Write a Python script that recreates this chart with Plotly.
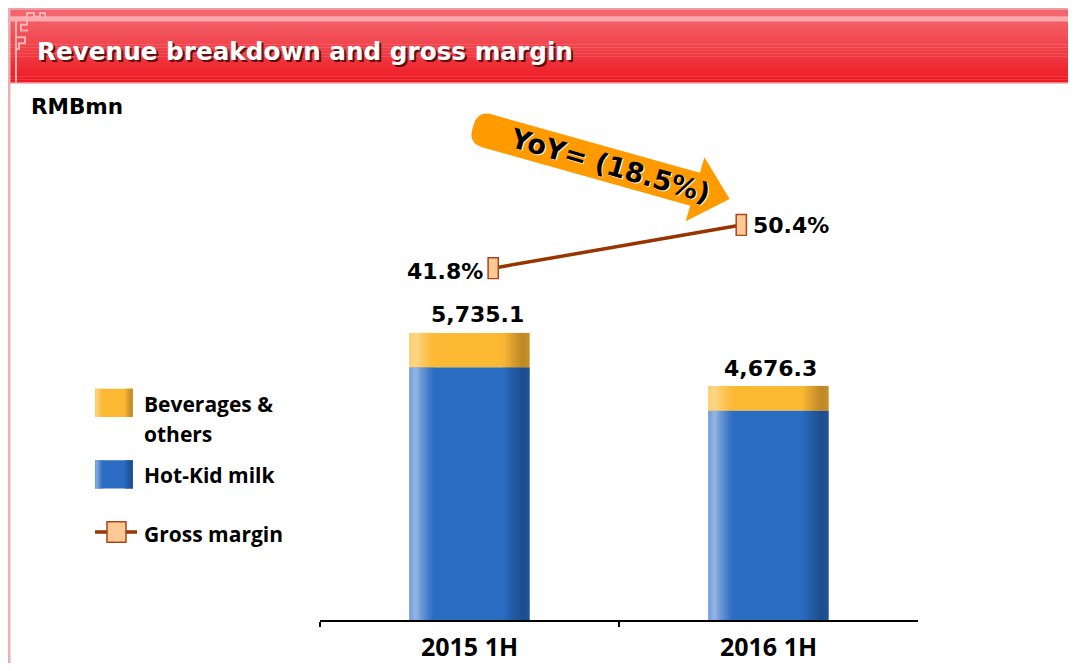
import math
import plotly.graph_objects as go

# ---------------- data ----------------
categories = ["2015 1H", "2016 1H"]
hotkid_milk = [5051.0, 4186.0]
beverages_others = [684.1, 490.3]
totals = [5735.1, 4676.3]
total_labels = ["5,735.1", "4,676.3"]
gross_margin = [41.8, 50.4]
margin_labels = ["41.8%", "50.4%"]
series_names = ["Hot-Kid milk", "Beverages & others", "Gross margin"]
title_text = "Revenue breakdown and gross margin"
unit_text = "RMBmn"
yoy_text = "YoY= (18.5%)"

# page has an 8px body margin
OFF = 8
W, H = 1068, 655


def px(x):
    return (x - OFF) / W


def py(y):
    return 1 - (y - OFF) / H


def hex2rgb(c):
    c = c.lstrip("#")
    return tuple(int(c[i:i + 2], 16) for i in (0, 2, 4))


def mix(c1, c2, t):
    a, b = hex2rgb(c1), hex2rgb(c2)
    return "rgb(%d,%d,%d)" % tuple(round(a[i] + (b[i] - a[i]) * t) for i in range(3))


def interp(pts, s):
    for (s0, v0), (s1, v1) in zip(pts[:-1], pts[1:]):
        if s0 <= s <= s1:
            return v0 + (v1 - v0) * (s - s0) / (s1 - s0) if s1 > s0 else v1
    return 0.0


BOLD = "DejaVu Sans"
SANS = "Open Sans"

HL_PROFILE = [(0.0, 0.55), (0.05, 0.85), (0.10, 0.5), (0.20, 0.0)]
SH_PROFILE = [(0.78, 0.0), (0.88, 0.6), (0.94, 0.9), (1.0, 0.75)]
N_L, N_R = 12, 14
strips = []
for i in range(N_L):
    s, e = 0.20 * i / N_L, 0.20 * (i + 1) / N_L
    strips.append((s, e, "hl", interp(HL_PROFILE, (s + e) / 2)))
for i in range(N_R):
    s, e = 0.78 + 0.22 * i / N_R, 0.78 + 0.22 * (i + 1) / N_R
    strips.append((s, e, "sh", interp(SH_PROFILE, (s + e) / 2)))

fig = go.Figure()

# ---------------- stacked bars with edge shading ----------------
BAR_W = 120 / 299
hk_base = [0 for _ in hotkid_milk]
series = [
    (series_names[0], hotkid_milk, hk_base, "#2a6cc2", "#aac5eb", "#1d4a88"),
    (series_names[1], beverages_others, hotkid_milk, "#fbb933", "#fedc98", "#b58326"),
]
for name, vals, base, col, hl, sh in series:
    fig.add_trace(go.Bar(x=categories, y=vals, base=base, name=name,
                         width=BAR_W, offset=-BAR_W / 2, marker_color=col,
                         marker_line_width=0, showlegend=False))
    for s, e, kind, t in strips:
        c = mix(col, hl if kind == "hl" else sh, t)
        ee = min(1.0, e + 0.004)
        fig.add_trace(go.Bar(x=categories, y=vals, base=base, name=name,
                             width=BAR_W * (ee - s), offset=-BAR_W / 2 + BAR_W * s,
                             marker_color=c, marker_line_width=0,
                             showlegend=False, hoverinfo="skip"))

# ---------------- gross margin line ----------------
fig.add_trace(go.Scatter(x=categories, y=gross_margin, xaxis="x2", yaxis="y2",
                         mode="lines", name=series_names[2],
                         line=dict(color="#993300", width=3.5), showlegend=False))
fig.add_trace(go.Scatter(x=categories, y=gross_margin, xaxis="x2", yaxis="y2",
                         mode="markers", name=series_names[2], hoverinfo="skip",
                         marker=dict(symbol="line-ns", size=15.9, color="#a8461c",
                                     line=dict(color="#a8461c", width=11.7)),
                         showlegend=False))
fig.add_trace(go.Scatter(x=categories, y=gross_margin, xaxis="x2", yaxis="y2",
                         mode="markers", name=series_names[2],
                         marker=dict(symbol="line-ns", size=13.9, color="#ffc995",
                                     line=dict(color="#ffc995", width=8.7)),
                         showlegend=False))

shapes = []


def rect(x0, y0, x1, y1, color, layer="below", line=None):
    shapes.append(dict(type="rect", xref="paper", yref="paper",
                       x0=px(x0), x1=px(x1), y0=py(y1), y1=py(y0),
                       fillcolor=color, line=line or dict(width=0), layer=layer))


# ---------------- header banner ----------------
rect(820, 0, 900, 7, "#f1f7fd")
rect(900, 0, 980, 7, "#d5e6f8")
rect(980, 0, 1090, 7, "#abcbf1")
rect(4, 7, 1090, 9.5, "#e3a3a7")
rect(6, 9.5, 1090, 17, "#f4646c")
rect(6, 17, 1090, 21.5, "#fbaaad")
n = 21
y0 = 21.5
for i in range(n):
    ya = y0 + (84 - y0) * i / n
    yb = y0 + (84 - y0) * (i + 1) / n + 0.3
    rect(6, ya, 1090, yb, mix("#f35e66", "#ed1b24", i / (n - 1)))
rect(6, 84, 1090, 85.5, "#f5a6a9")
rect(8, 7, 10.5, 700, "#e9b1b4")

fret = ("M16,84 L16,18 M16,18 L27,18 L27,25 L21,25 L21,31 L28,31 "
        "M16,38 L25,38 L25,44 L19,44 L19,50 L16,50 "
        "M27,18 L27,13 L34,13 L34,17 L40,17 L40,13 L45,13 L45,18")


def path_to_paper(p):
    out = []
    for tok in p.split():
        cmd = tok[0]
        xs, ys = tok[1:].split(",")
        out.append("%s%.5f,%.5f" % (cmd, px(float(xs)), py(float(ys))))
    return " ".join(out)


shapes.append(dict(type="path", xref="paper", yref="paper", path=path_to_paper(fret),
                   line=dict(color="#fbb2b5", width=2), layer="above"))

# ---------------- YoY arrow ----------------
th = math.radians(16)
ux, uy = math.cos(th), math.sin(th)
nx, ny = -math.sin(th), math.cos(th)
Sx, Sy = 473.0, 129.5
L, HL, BW, HW, R = 267.0, 36.0, 17.5, 34.0, 15.0


def pt(s, t):
    x = Sx + s * ux + t * nx
    y = Sy + s * uy + t * ny
    return "%.5f,%.5f" % (px(x), py(y))


arrow = ("M" + pt(R, -BW) + " L" + pt(L - HL, -BW) + " L" + pt(L - HL, -HW) +
         " L" + pt(L, 0) + " L" + pt(L - HL, HW) + " L" + pt(L - HL, BW) +
         " L" + pt(R, BW) + " Q" + pt(0, BW) + " " + pt(0, BW - R) +
         " L" + pt(0, -BW + R) + " Q" + pt(0, -BW) + " " + pt(R, -BW) + " Z")
shapes.append(dict(type="path", xref="paper", yref="paper", path=arrow,
                   fillcolor="#ff9b00", line_width=0, layer="above"))


# ---------------- custom legend ----------------
def swatch(x0, y0, x1, y1, col, hl, sh):
    rect(x0, y0, x1, y1, col, layer="above")
    w = x1 - x0
    for s, e, kind, t in strips:
        rect(x0 + w * s, y0, x0 + w * min(1.0, e + 0.004), y1,
             mix(col, hl if kind == "hl" else sh, t), layer="above")


swatch(95, 397, 133, 426, "#fbb933", "#fedc98", "#b58326")
swatch(95, 470, 133, 499, "#2a6cc2", "#aac5eb", "#1d4a88")
shapes.append(dict(type="line", xref="paper", yref="paper", x0=px(95), x1=px(137),
                   y0=py(543.5), y1=py(543.5), line=dict(color="#993300", width=3.5)))
rect(107, 533, 126, 554, "#ffc995", layer="above", line=dict(color="#a8461c", width=1.5))

# ---------------- annotations ----------------
ann = []
ann.append(dict(text="<b>%s</b>" % title_text, x=px(37), y=py(54.5), xref="paper", yref="paper",
                xanchor="left", yanchor="middle", showarrow=False,
                font=dict(family=BOLD, size=24.7, color="rgba(50,0,0,0.75)")))
ann.append(dict(text="<b>%s</b>" % title_text, x=px(35), y=py(52.5), xref="paper", yref="paper",
                xanchor="left", yanchor="middle", showarrow=False,
                font=dict(family=BOLD, size=24.7, color="white")))
ann.append(dict(text="<b>%s</b>" % unit_text, x=px(29), y=py(108.5), xref="paper", yref="paper",
                xanchor="left", yanchor="middle", showarrow=False,
                font=dict(family=BOLD, size=21.5, color="black")))

cx = Sx + 143 * ux
cy = Sy + 143 * uy
ann.append(dict(text="<b>%s</b>" % yoy_text, x=px(cx + 1.5), y=py(cy + 1.5), xref="paper", yref="paper",
                xanchor="center", yanchor="middle", showarrow=False, textangle=16,
                font=dict(family=BOLD, size=27, color="rgba(255,255,255,0.9)")))
ann.append(dict(text="<b>%s</b>" % yoy_text, x=px(cx), y=py(cy), xref="paper", yref="paper",
                xanchor="center", yanchor="middle", showarrow=False, textangle=16,
                font=dict(family=BOLD, size=27, color="black")))

tot_shift = [(8, 18), (2, 17)]
for i, c in enumerate(categories):
    ann.append(dict(text="<b>%s</b>" % total_labels[i], x=c, y=totals[i], xref="x", yref="y",
                    xanchor="center", yanchor="middle", showarrow=False,
                    xshift=tot_shift[i][0], yshift=tot_shift[i][1],
                    font=dict(family=BOLD, size=22, color="black")))

ann.append(dict(text="<b>%s</b>" % margin_labels[0], x=categories[0], y=gross_margin[0],
                xref="x2", yref="y2", xanchor="right", yanchor="middle", showarrow=False,
                xshift=-8, yshift=-3, font=dict(family=BOLD, size=22, color="black")))
ann.append(dict(text="<b>%s</b>" % margin_labels[1], x=categories[1], y=gross_margin[1],
                xref="x2", yref="y2", xanchor="left", yanchor="middle", showarrow=False,
                xshift=10, yshift=-1, font=dict(family=BOLD, size=22, color="black")))

leg_text = [("Beverages &amp;", 412.5), ("others", 443), ("Hot-Kid milk", 485.5), ("Gross margin", 545)]
for t, yy in leg_text:
    ann.append(dict(text="<b>%s</b>" % t, x=px(142), y=py(yy), xref="paper", yref="paper",
                    xanchor="left", yanchor="middle", showarrow=False,
                    font=dict(family=SANS, size=21, color="black")))

y_dom = [py(633.3), py(100)]
fig.update_layout(
    width=W, height=H, margin=dict(l=0, r=0, t=0, b=0),
    paper_bgcolor="white", plot_bgcolor="rgba(0,0,0,0)",
    barmode="overlay", showlegend=False,
    xaxis=dict(domain=[px(320), px(918)], type="category", range=[-0.5, 1.5],
               showline=True, linecolor="black", linewidth=1.5,
               ticks="outside", ticklen=5, tickwidth=1.5, tickcolor="black",
               tickson="boundaries", showgrid=False, zeroline=False,
               ticklabelstandoff=4,
               tickfont=dict(family=SANS, size=25, color="black", weight="bold"),
               anchor="y", fixedrange=True),
    yaxis=dict(domain=y_dom, range=[0, 533.3 / (293.3 / 5735.1)], visible=False,
               anchor="x", fixedrange=True),
    xaxis2=dict(domain=[px(369.15), px(865.35)], type="category", range=[-0.5, 1.5],
                visible=False, anchor="y2", fixedrange=True),
    yaxis2=dict(domain=y_dom, range=[-28.3, 75.7], visible=False, anchor="x2",
                fixedrange=True),
    shapes=shapes, annotations=ann,
)

fig.write_html("out.html")
